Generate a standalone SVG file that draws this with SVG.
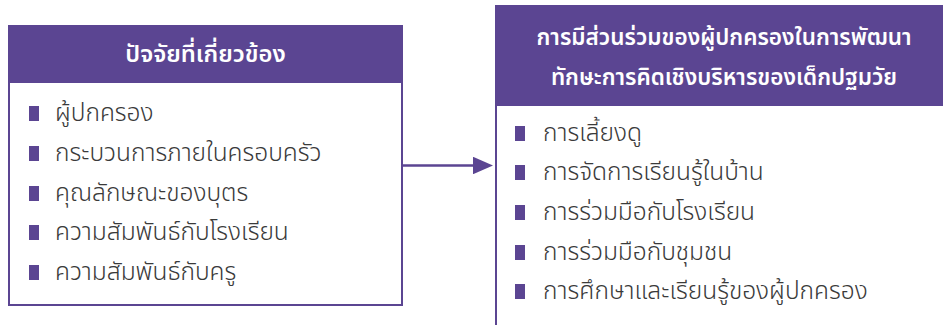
<svg xmlns="http://www.w3.org/2000/svg" width="943" height="325" viewBox="0 0 943 325">
<style>
.box{fill:#ffffff;stroke:#5b4592;stroke-width:2}
.hdr{fill:#5b4592}
.ttl{font-family:"Noto Sans Thai","Noto Sans","DejaVu Sans",sans-serif;font-size:22.5px;font-weight:600;fill:#ffffff;text-anchor:middle}
.item{font-family:"Noto Sans Thai","Noto Sans","DejaVu Sans",sans-serif;font-size:24.5px;font-weight:300;fill:#3a3a3a}
.bul{fill:#5b4592}
.conn{stroke:#5b4592;stroke-width:2.5;fill:none}
</style>
<defs>
<marker id="ah" markerWidth="8" markerHeight="7" refX="0" refY="3.5" orient="auto" markerUnits="strokeWidth">
<path d="M0,0 L8,3.5 L0,7 Z" fill="#5b4592"/>
</marker>
</defs>
<rect width="943" height="325" fill="#ffffff"/>
<g id="connectors">
<line class="conn" x1="403" y1="165.5" x2="473" y2="165.5" marker-end="url(#ah)"/>
</g>
<g id="factors">
<rect class="box" x="9" y="26" width="393" height="279"/>
<rect class="hdr" x="8" y="25" width="395" height="58"/>
<text class="ttl" x="205.5" y="62" style="font-size:23.8px">ปัจจัยที่เกี่ยวข้อง</text>
<rect class="bul" x="29" y="106" width="10" height="15"/>
<text class="item" x="55" y="121">ผู้ปกครอง</text>
<rect class="bul" x="29" y="146" width="10" height="15"/>
<text class="item" x="55" y="161">กระบวนการภายในครอบครัว</text>
<rect class="bul" x="29" y="186" width="10" height="15"/>
<text class="item" x="55" y="201">คุณลักษณะของบุตร</text>
<rect class="bul" x="29" y="225" width="10" height="15"/>
<text class="item" x="55" y="240">ความสัมพันธ์กับโรงเรียน</text>
<rect class="bul" x="29" y="265" width="10" height="15"/>
<text class="item" x="55" y="280">ความสัมพันธ์กับครู</text>
</g>
<g id="participation">
<rect class="box" x="496" y="6" width="460" height="330"/>
<rect class="hdr" x="495" y="5" width="448" height="101"/>
<text class="ttl" x="724" y="45">การมีส่วนร่วมของผู้ปกครองในการพัฒนา</text>
<text class="ttl" x="724" y="85">ทักษะการคิดเชิงบริหารของเด็กปฐมวัย</text>
<rect class="bul" x="515" y="126" width="10" height="15"/>
<text class="item" x="543" y="141">การเลี้ยงดู</text>
<rect class="bul" x="515" y="165" width="10" height="15"/>
<text class="item" x="543" y="180">การจัดการเรียนรู้ในบ้าน</text>
<rect class="bul" x="515" y="205" width="10" height="15"/>
<text class="item" x="543" y="220">การร่วมมือกับโรงเรียน</text>
<rect class="bul" x="515" y="245" width="10" height="15"/>
<text class="item" x="543" y="260">การร่วมมือกับชุมชน</text>
<rect class="bul" x="515" y="284" width="10" height="15"/>
<text class="item" x="543" y="299">การศึกษาและเรียนรู้ของผู้ปกครอง</text>
</g>
</svg>
